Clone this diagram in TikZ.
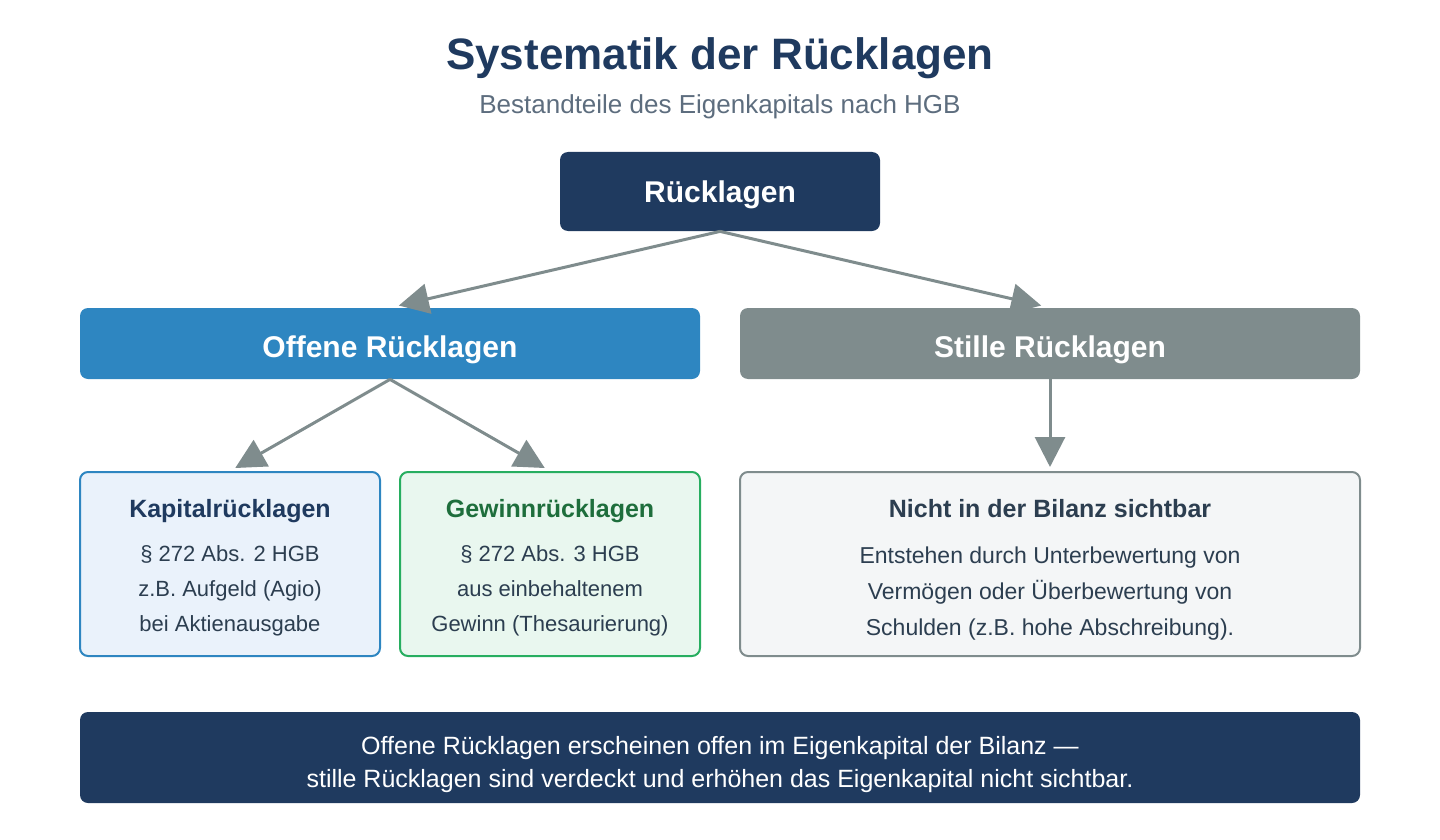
\documentclass[tikz,border=0pt]{standalone}
\usepackage{fontspec}
\setmainfont{Liberation Sans}
\usetikzlibrary{positioning, arrows.meta}

\definecolor{navy}{RGB}{31,58,95}
\definecolor{openblue}{RGB}{46,134,193}
\definecolor{silentgray}{RGB}{127,140,141}
\definecolor{kapfill}{RGB}{234,242,251}
\definecolor{gewfill}{RGB}{233,247,239}
\definecolor{gewline}{RGB}{39,174,96}
\definecolor{gewtext}{RGB}{30,110,60}
\definecolor{grayfill}{RGB}{244,246,247}
\definecolor{darktext}{RGB}{44,62,80}
\definecolor{subtext}{RGB}{93,109,126}

\newcommand{\headfont}{\fontsize{12.5}{17.5}\selectfont\bfseries}

\begin{document}
\begin{tikzpicture}[
  x=0.5pt, y=-0.5pt,
  headbox/.style={
    fill=navy, rounded corners=4pt, text=white,
    font=\fontsize{15}{18}\selectfont\bfseries,
    text height=11pt, text depth=0pt,
    minimum width=160pt, minimum height=39.5pt
  },
  kindbox/.style={
    rounded corners=4pt, text=white,
    font=\fontsize{15}{18}\selectfont\bfseries,
    text height=14pt, text depth=0pt,
    minimum width=310pt, minimum height=35.5pt
  },
  detail/.style={
    rounded corners=4pt, line width=1pt,
    minimum width=150pt, minimum height=92pt
  },
  detailtext/.style={
    anchor=base, align=center, text=darktext,
    font=\fontsize{11}{17.5}\selectfont
  },
  arrow/.style={
    -{Triangle[length=15pt, width=15pt]}, line width=1.5pt,
    draw=silentgray, shorten >=3pt
  },
  note/.style={
    fill=navy, rounded corners=4pt,
    minimum width=640pt, minimum height=45.5pt
  },
  notetext/.style={
    anchor=base, align=center, text=white,
    font=\fontsize{12.5}{16.5}\selectfont
  }
]
\useasboundingbox (0,0) rectangle (1440,840);

% title
\node[anchor=base, text=navy, font=\fontsize{22}{26}\selectfont\bfseries]
  (title) at (720,70) {Systematik der Rücklagen};
\node[anchor=base, text=subtext, font=\fontsize{13}{16}\selectfont]
  (subtitle) at (720,113) {Bestandteile des Eigenkapitals nach HGB};

% tree
\node[headbox] (root) at (720,191.5) {Rücklagen};
\node[kindbox, fill=openblue] (offen) at (390,343.5) {Offene Rücklagen};
\node[kindbox, fill=silentgray] (still) at (1050,343.5) {Stille Rücklagen};

\node[detail, draw=openblue, fill=kapfill] (kapital) at (230,564) {};
\node[detail, draw=gewline, fill=gewfill] (gewinn) at (550,564) {};
\node[detail, draw=silentgray, fill=grayfill, minimum width=310pt] (bilanz) at (1050,564) {};

% texts sit on the baseline of their last line
\node[detailtext] (kapitaltext) at (230,631)
  {{\headfont\color{navy}Kapitalrücklagen}\\[4.5pt]
   § 272 Abs. 2 HGB\\ z.B. Aufgeld (Agio)\\ bei Aktienausgabe};
\node[detailtext] (gewinntext) at (550,631)
  {{\headfont\color{gewtext}Gewinnrücklagen}\\[4.5pt]
   § 272 Abs. 3 HGB\\ aus einbehaltenem\\ Gewinn (Thesaurierung)};
\node[detailtext, font=\fontsize{11.5}{18}\selectfont] (bilanztext) at (1050,635)
  {{\headfont Nicht in der Bilanz sichtbar}\\[5pt]
   Entstehen durch Unterbewertung von\\ Vermögen oder Überbewertung von\\
   Schulden (z.B. hohe Abschreibung).};

\draw[arrow, shorten >=4.5pt] (root.south) -- (offen.north);
\draw[arrow, shorten >=4.5pt] (root.south) -- (still.north);
\draw[arrow] (offen.south) -- (kapital.north);
\draw[arrow] (offen.south) -- (gewinn.north);
\draw[arrow, shorten >=2pt] (still.south) -- (bilanz.north);

% summary
\node[note] (summary) at (720,757.5) {};
\node[notetext] (summarytext) at (720,787)
  {Offene Rücklagen erscheinen offen im Eigenkapital der Bilanz —\\
   stille Rücklagen sind verdeckt und erhöhen das Eigenkapital nicht sichtbar.};

\end{tikzpicture}
\end{document}
